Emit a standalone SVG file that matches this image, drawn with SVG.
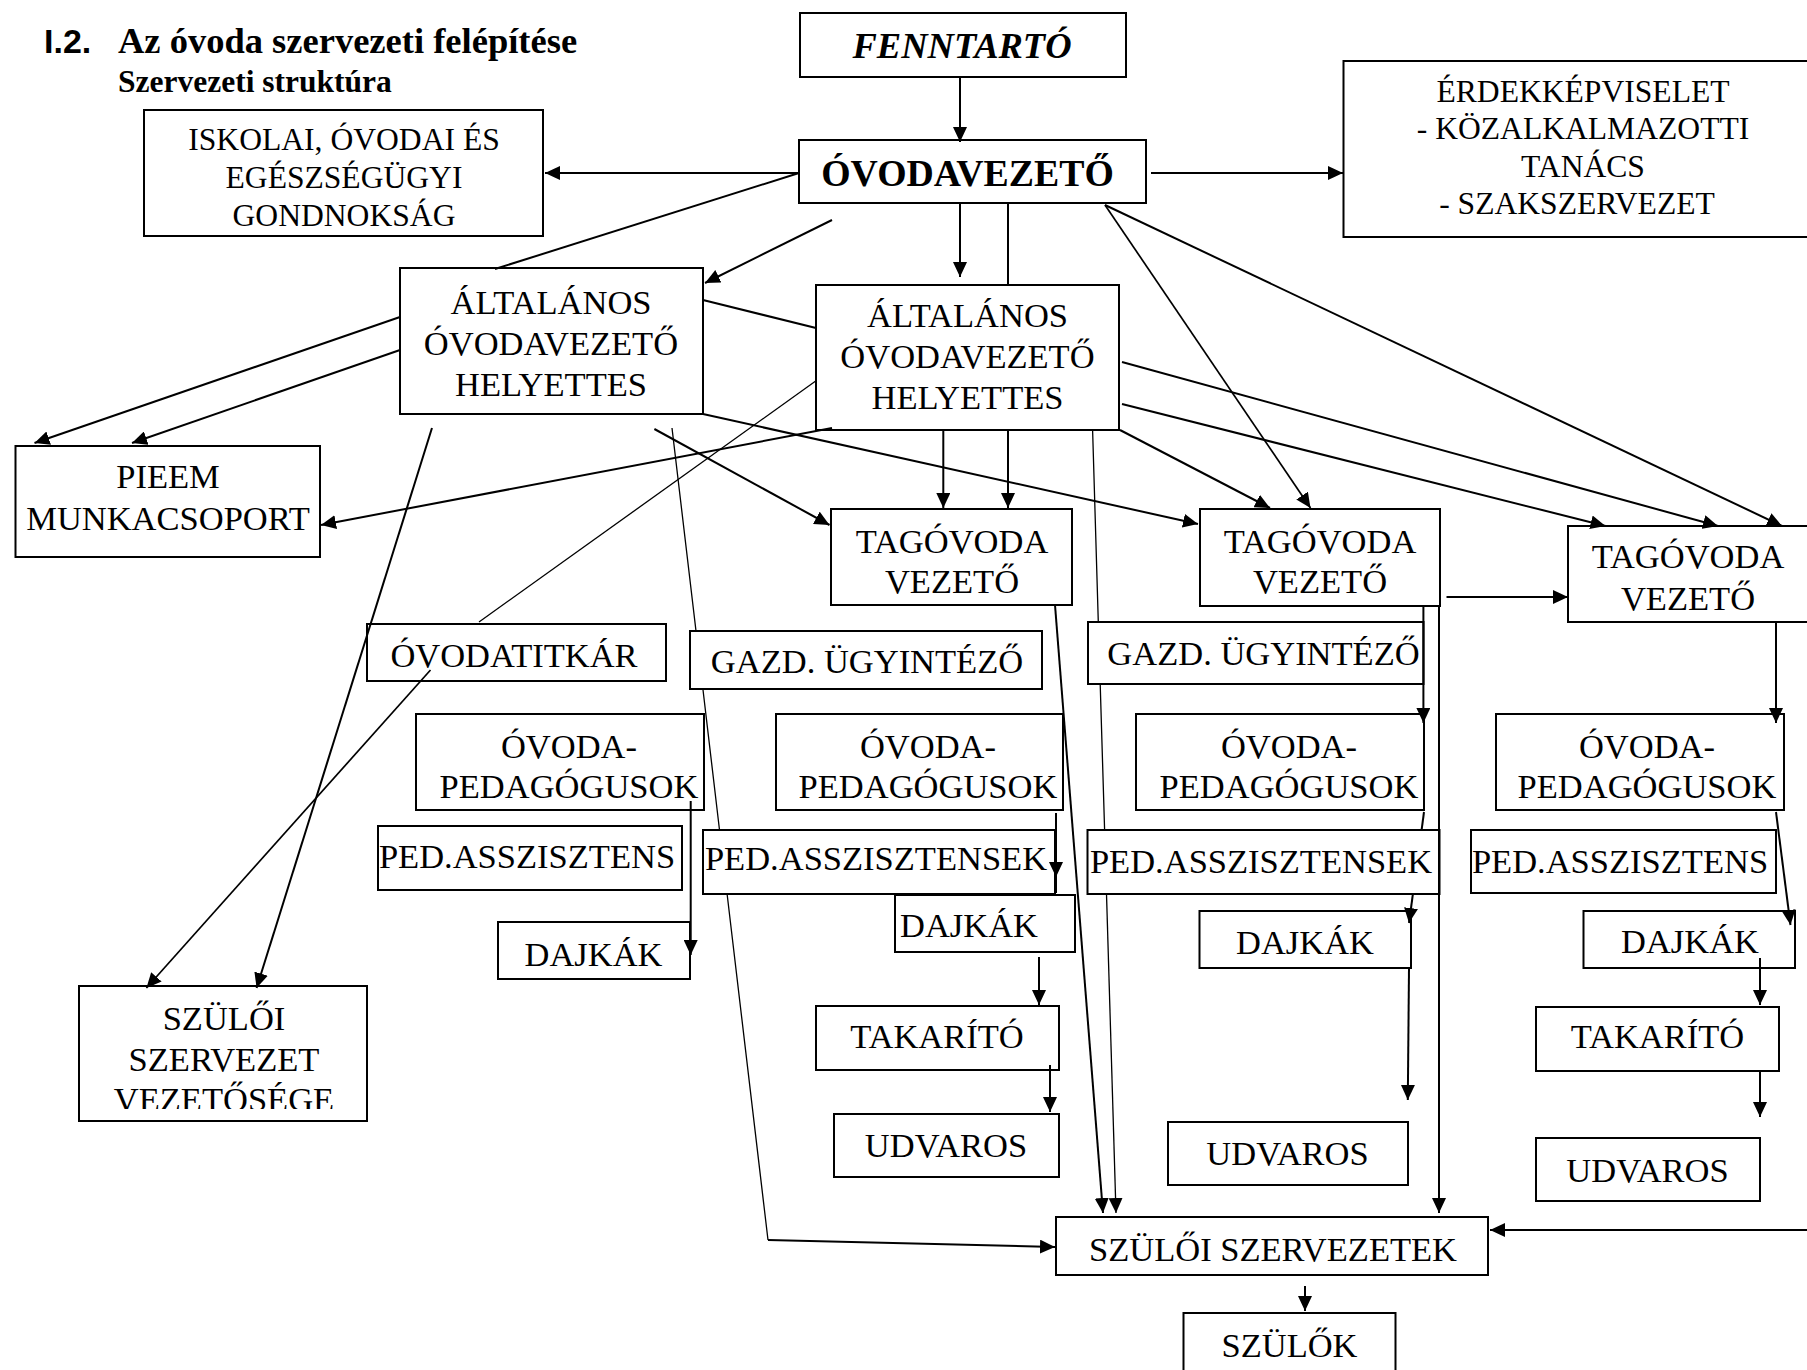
<svg xmlns="http://www.w3.org/2000/svg" width="1807" height="1370" viewBox="0 0 1807 1370">
<style>
.bx{fill:#fff;stroke:#000;stroke-width:2}
.t{font-family:"Liberation Serif","Times New Roman",serif;font-size:34.5px;text-anchor:middle;fill:#000}
.ts{font-size:31.6px}
.c{fill:none;stroke:#000;stroke-width:2}
.th{stroke-width:1.3}
.tm{stroke-width:1.7}
</style>
<defs>
<marker id="ah" markerUnits="userSpaceOnUse" markerWidth="16" markerHeight="14" refX="15" refY="7" orient="auto">
<path d="M0,0 L15,7 L0,14 z" fill="#000"/>
</marker>
<clipPath id="clipSzv"><rect x="79" y="986" width="290" height="123"/></clipPath>
</defs>
<rect width="1807" height="1370" fill="#fff"/>
<g id="title">
<text x="44" y="53" style="font-family:'Liberation Sans',Arial,sans-serif;font-weight:bold;font-size:34px">I.2.</text>
<text x="118" y="53" style="font-family:'Liberation Serif','Times New Roman',serif;font-weight:bold;font-size:36.5px">Az óvoda szervezeti felépítése</text>
<text x="118" y="92" style="font-family:'Liberation Serif','Times New Roman',serif;font-weight:bold;font-size:31.5px">Szervezeti struktúra</text>
</g>
<g id="fenntarto"><rect class="bx" x="800" y="13" width="326" height="64"/><text class="t" x="962" y="58" style="font-weight:bold;font-style:italic;font-size:36.5px">FENNTARTÓ</text></g>
<g id="ovodavezeto"><rect class="bx" x="799" y="140" width="347" height="63"/><text class="t" x="967.5" y="186" style="font-weight:bold;font-size:37.8px">ÓVODAVEZETŐ</text></g>
<g id="gondnoksag"><rect class="bx" x="144" y="110" width="399" height="126"/><text class="t ts" x="344" y="150">ISKOLAI, ÓVODAI ÉS</text><text class="t ts" x="344" y="188">EGÉSZSÉGÜGYI</text><text class="t ts" x="344" y="226">GONDNOKSÁG</text></g>
<g id="erdek"><rect class="bx" x="1343.5" y="61" width="470" height="176"/><text class="t ts" x="1583" y="102">ÉRDEKKÉPVISELET</text><text class="t ts" x="1583" y="139">- KÖZALKALMAZOTTI</text><text class="t ts" x="1583" y="177">TANÁCS</text><text class="t ts" x="1577" y="214">- SZAKSZERVEZET</text></g>
<g id="altalanos1"><rect class="bx" x="400" y="268" width="303" height="146"/><text class="t" x="551" y="314">ÁLTALÁNOS</text><text class="t" x="551" y="355">ÓVODAVEZETŐ</text><text class="t" x="551" y="396">HELYETTES</text></g>
<g id="altalanos2"><rect class="bx" x="816" y="285" width="303" height="145"/><text class="t" x="967.5" y="327">ÁLTALÁNOS</text><text class="t" x="967.5" y="368">ÓVODAVEZETŐ</text><text class="t" x="967.5" y="409">HELYETTES</text></g>
<g id="pieem"><rect class="bx" x="15.5" y="446" width="304.5" height="111"/><text class="t" x="168" y="488">PIEEM</text><text class="t" x="168" y="530">MUNKACSOPORT</text></g>
<g id="tagovoda1"><rect class="bx" x="831" y="509" width="241" height="96"/><text class="t" x="952" y="553">TAGÓVODA</text><text class="t" x="952" y="593">VEZETŐ</text></g>
<g id="tagovoda2"><rect class="bx" x="1200" y="509" width="240" height="97"/><text class="t" x="1320" y="553">TAGÓVODA</text><text class="t" x="1320" y="593">VEZETŐ</text></g>
<g id="tagovoda3"><rect class="bx" x="1568" y="526" width="241" height="96"/><text class="t" x="1688" y="568">TAGÓVODA</text><text class="t" x="1688" y="610">VEZETŐ</text></g>
<g id="ovodatitkar"><rect class="bx" x="367" y="624" width="299" height="57"/><text class="t" x="514" y="667">ÓVODATITKÁR</text></g>
<g id="gazd1"><rect class="bx" x="690" y="631" width="352" height="58"/><text class="t" x="867" y="673">GAZD. ÜGYINTÉZŐ</text></g>
<g id="gazd2"><rect class="bx" x="1088" y="622" width="335.5" height="62"/><text class="t" x="1263.5" y="665">GAZD. ÜGYINTÉZŐ</text></g>
<g id="ovodaped1"><rect class="bx" x="416" y="714" width="288" height="96"/><text class="t" x="569" y="758">ÓVODA-</text><text class="t" x="569" y="798">PEDAGÓGUSOK</text></g>
<g id="ovodaped2"><rect class="bx" x="776" y="714" width="287" height="96"/><text class="t" x="928" y="758">ÓVODA-</text><text class="t" x="928" y="798">PEDAGÓGUSOK</text></g>
<g id="ovodaped3"><rect class="bx" x="1136" y="714" width="288" height="96"/><text class="t" x="1289" y="758">ÓVODA-</text><text class="t" x="1289" y="798">PEDAGÓGUSOK</text></g>
<g id="ovodaped4"><rect class="bx" x="1496" y="714" width="288" height="96"/><text class="t" x="1647" y="758">ÓVODA-</text><text class="t" x="1647" y="798">PEDAGÓGUSOK</text></g>
<g id="pedassz1"><rect class="bx" x="378" y="826" width="304" height="64"/><text class="t" x="527" y="868">PED.ASSZISZTENS</text></g>
<g id="pedassz2"><rect class="bx" x="703" y="830" width="352" height="64"/><text class="t" x="876" y="870">PED.ASSZISZTENSEK</text></g>
<g id="pedassz3"><rect class="bx" x="1087.5" y="830" width="352" height="64"/><text class="t" x="1261" y="873">PED.ASSZISZTENSEK</text></g>
<g id="pedassz4"><rect class="bx" x="1471" y="830" width="305" height="63"/><text class="t" x="1620" y="873">PED.ASSZISZTENS</text></g>
<g id="dajkak1"><rect class="bx" x="498" y="922" width="192" height="57"/><text class="t" x="593.5" y="966">DAJKÁK</text></g>
<g id="dajkak2"><rect class="bx" x="895" y="895" width="180" height="57"/><text class="t" x="969" y="937">DAJKÁK</text></g>
<g id="dajkak3"><rect class="bx" x="1199.5" y="911" width="211.5" height="57"/><text class="t" x="1305" y="954">DAJKÁK</text></g>
<g id="dajkak4"><rect class="bx" x="1583.5" y="911" width="211.5" height="57"/><text class="t" x="1690" y="953">DAJKÁK</text></g>
<g id="takarito1"><rect class="bx" x="816" y="1006" width="243" height="64"/><text class="t" x="937" y="1048">TAKARÍTÓ</text></g>
<g id="takarito2"><rect class="bx" x="1536" y="1007" width="243" height="64"/><text class="t" x="1657.5" y="1048">TAKARÍTÓ</text></g>
<g id="udvaros1"><rect class="bx" x="834" y="1114" width="225" height="63"/><text class="t" x="946" y="1157">UDVAROS</text></g>
<g id="udvaros2"><rect class="bx" x="1168" y="1122" width="240" height="63"/><text class="t" x="1287.5" y="1165">UDVAROS</text></g>
<g id="udvaros3"><rect class="bx" x="1536" y="1138" width="224" height="63"/><text class="t" x="1647.5" y="1182">UDVAROS</text></g>
<g id="szuloiszervezetek"><rect class="bx" x="1056" y="1217" width="432" height="58"/><text class="t" x="1273" y="1261">SZÜLŐI SZERVEZETEK</text></g>
<g id="szulok"><rect class="bx" x="1183.5" y="1313" width="212" height="62"/><text class="t" x="1289.5" y="1357">SZÜLŐK</text></g>
<g id="szuloiszervezetvezetoseg"><rect class="bx" x="79" y="986" width="288" height="135"/><g clip-path="url(#clipSzv)"><text class="t" x="224" y="1030">SZÜLŐI</text><text class="t" x="224" y="1071">SZERVEZET</text><text class="t" x="224" y="1110.5">VEZETŐSÉGE</text></g></g>
<g id="connectors">
<path class="c" d="M960,77 V142" marker-end="url(#ah)"/>
<path class="c" d="M799,173 H545" marker-end="url(#ah)"/>
<path class="c" d="M1151,173 H1343" marker-end="url(#ah)"/>
<path class="c" d="M960,203 V277" marker-end="url(#ah)"/>
<path class="c" d="M1008,203 V285"/>
<path class="c" d="M799,173 L495,269"/>
<path class="c" d="M832,220 L705,283" marker-end="url(#ah)"/>
<path class="c tm" d="M1105,205 L1310.5,508" marker-end="url(#ah)"/>
<path class="c" d="M1105,205 L1782,526" marker-end="url(#ah)"/>
<path class="c" d="M703,300 L816,328"/>
<path class="c" d="M1122,404 L1605.5,526" marker-end="url(#ah)"/>
<path class="c" d="M1122,362 L1718,526" marker-end="url(#ah)"/>
<path class="c" d="M400,317 L34.5,443" marker-end="url(#ah)"/>
<path class="c" d="M400,350 L132,443" marker-end="url(#ah)"/>
<path class="c" d="M703,414 L1198,524" marker-end="url(#ah)"/>
<path class="c" d="M832,428 L321,525" marker-end="url(#ah)"/>
<path class="c th" d="M815.7,381 L479,622"/>
<path class="c tm" d="M430.5,670 L146.4,988" marker-end="url(#ah)"/>
<path class="c" d="M432,428 L256.6,988" marker-end="url(#ah)"/>
<path class="c" d="M654.4,429 L829.5,525" marker-end="url(#ah)"/>
<path class="c th" d="M672,428 L696,631 M702.9,689 L719.5,830 M727.1,894 L768,1240"/>
<path class="c" d="M768,1240 L1055,1247" marker-end="url(#ah)"/>
<path class="c" d="M943.3,430 V508" marker-end="url(#ah)"/>
<path class="c" d="M1008,430 V508" marker-end="url(#ah)"/>
<path class="c th" d="M1092.6,430 L1098.3,622 M1100.2,684 L1104.6,830"/>
<path class="c th" d="M1106.5,894 L1116,1213" marker-end="url(#ah)"/>
<path class="c" d="M1120,430 L1270,508" marker-end="url(#ah)"/>
<path class="c" d="M1055,605 L1103,1213" marker-end="url(#ah)"/>
<path class="c" d="M1439,606 V1213" marker-end="url(#ah)"/>
<path class="c" d="M1423.4,606 V723" marker-end="url(#ah)"/>
<path class="c" d="M1446.5,597 H1568" marker-end="url(#ah)"/>
<path class="c" d="M1776,622 V723" marker-end="url(#ah)"/>
<path class="c" d="M690.7,801 V955" marker-end="url(#ah)"/>
<path class="c" d="M1056,813 V877" marker-end="url(#ah)"/>
<path class="c" d="M1056,877 V893"/>
<path class="c" d="M1424,812 L1421.6,830"/>
<path class="c" d="M1412.9,894 L1409,923" marker-end="url(#ah)"/>
<path class="c" d="M1409,968 L1407.8,1100" marker-end="url(#ah)"/>
<path class="c" d="M1776,812 L1790.5,925" marker-end="url(#ah)"/>
<path class="c" d="M1039,957 V1005" marker-end="url(#ah)"/>
<path class="c" d="M1050,1065 V1112" marker-end="url(#ah)"/>
<path class="c" d="M1760,958 V1005" marker-end="url(#ah)"/>
<path class="c" d="M1760,1070 V1117" marker-end="url(#ah)"/>
<path class="c" d="M1812,1230 H1490" marker-end="url(#ah)"/>
<path class="c" d="M1305,1286 V1311" marker-end="url(#ah)"/>
</g>
</svg>
